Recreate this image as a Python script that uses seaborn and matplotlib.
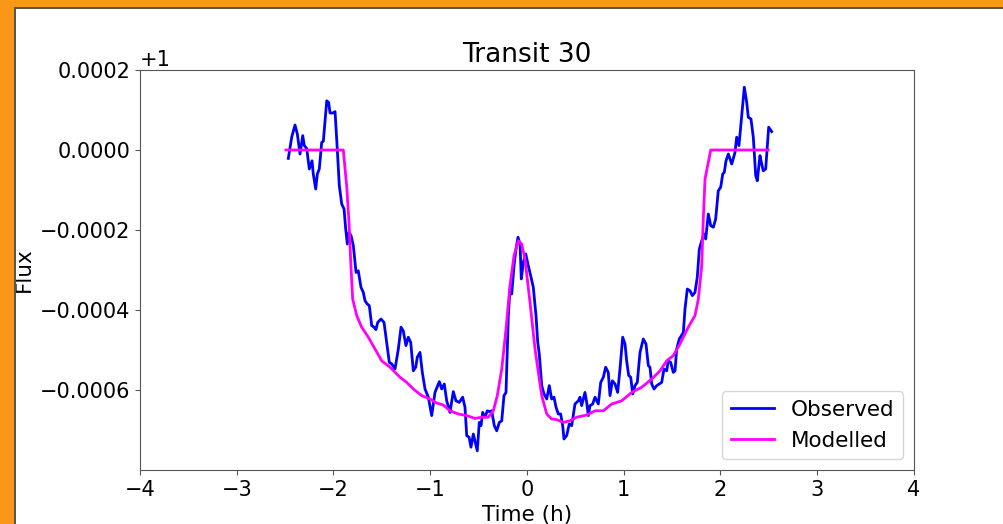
import numpy as np
import pandas as pd
import matplotlib
matplotlib.use("Agg")
import matplotlib.pyplot as plt
from matplotlib.patches import Rectangle
import seaborn as sns

# ---- data (flux offsets in units of 1e-4, relative to 1) ----
obs_time = [-2.467, -2.432, -2.398, -2.374, -2.346, -2.318, -2.302, -2.277, -2.250, -2.222,
            -2.209, -2.184, -2.167, -2.147, -2.122, -2.105, -2.070, -2.050, -2.036, -2.008,
            -1.984, -1.961, -1.940, -1.915, -1.891, -1.874, -1.857, -1.840, -1.819, -1.795,
            -1.767, -1.744, -1.716, -1.692, -1.674, -1.651, -1.630, -1.605, -1.581, -1.561,
            -1.543, -1.509, -1.478, -1.450, -1.423, -1.398, -1.364, -1.330, -1.302, -1.279,
            -1.251, -1.227, -1.202, -1.175, -1.150, -1.134, -1.106, -1.082, -1.054, -1.020,
            -0.985, -0.951, -0.906, -0.882, -0.855, -0.830, -0.796, -0.762, -0.734, -0.700,
            -0.665, -0.641, -0.623, -0.599, -0.579, -0.555, -0.534, -0.514, -0.493, -0.475,
            -0.458, -0.434, -0.410, -0.390, -0.365, -0.338, -0.313, -0.286, -0.261, -0.238,
            -0.217, -0.193, -0.176, -0.158, -0.134, -0.114, -0.093, -0.072, -0.059, -0.038,
            -0.013, 0.013, 0.038, 0.065, 0.093, 0.111, 0.127, 0.152, 0.176, 0.204,
            0.230, 0.255, 0.279, 0.300, 0.324, 0.348, 0.369, 0.382, 0.410, 0.437,
            0.462, 0.496, 0.530, 0.548, 0.565, 0.599, 0.617, 0.634, 0.651, 0.679,
            0.703, 0.737, 0.762, 0.789, 0.813, 0.840, 0.858, 0.882, 0.910, 0.937,
            0.961, 0.989, 1.013, 1.030, 1.051, 1.072, 1.093, 1.116, 1.140, 1.168,
            1.202, 1.230, 1.254, 1.271, 1.289, 1.313, 1.341, 1.367, 1.392, 1.416,
            1.444, 1.460, 1.485, 1.512, 1.530, 1.547, 1.574, 1.616, 1.633, 1.657,
            1.685, 1.709, 1.736, 1.760, 1.781, 1.806, 1.829, 1.847, 1.874, 1.899,
            1.926, 1.950, 1.977, 2.002, 2.023, 2.039, 2.057, 2.081, 2.116, 2.150,
            2.167, 2.191, 2.219, 2.246, 2.271, 2.287, 2.315, 2.339, 2.364, 2.380,
            2.408, 2.426, 2.442, 2.467, 2.484, 2.498, 2.529]
obs_flux = [-0.21, 0.32, 0.625, 0.40, -0.10, 0.36, 0.11, 0.04, -0.475, -0.27,
            -0.60, -0.975, -0.60, -0.475, 0.19, 0.22, 1.23, 1.19, 0.925, 0.925,
            0.96, 0.025, -0.89, -1.35, -1.475, -1.975, -2.35, -2.06, -2.14, -2.39,
            -3.06, -3.02, -3.43, -3.56, -3.77, -3.85, -3.89, -4.39, -4.43, -4.49,
            -4.31, -4.225, -4.31, -4.81, -5.31, -5.35, -5.475, -4.975, -4.43, -4.52,
            -4.89, -4.68, -4.81, -5.52, -5.43, -5.18, -5.06, -5.56, -5.975, -6.18,
            -6.64, -6.06, -5.79, -5.975, -5.85, -6.27, -6.56, -6.04, -6.27, -6.31,
            -6.18, -6.43, -7.14, -7.18, -7.43, -7.10, -7.31, -7.52, -6.81, -6.89,
            -6.56, -6.68, -6.52, -6.54, -6.52, -6.89, -7.02, -6.81, -6.77, -6.14,
            -6.06, -4.14, -3.475, -3.60, -2.89, -2.475, -2.18, -2.35, -3.225, -2.81,
            -2.60, -2.89, -3.14, -3.43, -4.14, -4.81, -5.10, -5.89, -6.10, -6.225,
            -5.89, -6.225, -6.18, -6.43, -6.60, -6.60, -6.89, -7.225, -7.14, -6.85,
            -6.89, -6.35, -6.27, -6.18, -6.39, -6.06, -6.31, -6.64, -6.39, -6.35,
            -6.18, -6.35, -5.81, -5.68, -5.43, -5.56, -6.14, -5.77, -5.85, -6.06,
            -5.475, -4.68, -4.85, -5.27, -5.64, -5.68, -6.10, -5.89, -5.81, -5.06,
            -4.725, -4.85, -5.39, -5.43, -5.85, -5.975, -5.89, -5.85, -5.81, -5.475,
            -5.52, -5.27, -5.31, -5.56, -5.52, -4.975, -4.725, -4.56, -3.975, -3.475,
            -3.52, -3.64, -3.56, -3.18, -2.475, -2.27, -2.10, -2.225, -1.60, -1.89,
            -1.93, -1.725, -1.02, -0.93, -0.60, -0.56, -0.27, -0.10, -0.35, -0.06,
            0.32, 0.11, 0.86, 1.57, 1.19, 0.82, 0.775, 0.32, -0.64, -0.77,
            -0.14, -0.35, -0.52, -0.475, 0.11, 0.57, 0.46]

mod_time = [-2.491, -1.899, -1.864, -1.840, -1.822, -1.802, -1.760, -1.709, -1.640, -1.571,
            -1.502, -1.416, -1.313, -1.243, -1.175, -1.088, -1.003, -0.933, -0.865, -0.796,
            -0.710, -0.623, -0.537, -0.468, -0.400, -0.348, -0.307, -0.261, -0.217, -0.176,
            -0.134, -0.090, -0.055, -0.021, 0.031, 0.083, 0.127, 0.152, 0.204, 0.255,
            0.307, 0.375, 0.444, 0.514, 0.617, 0.703, 0.789, 0.875, 0.979, 1.082,
            1.186, 1.289, 1.375, 1.444, 1.512, 1.581, 1.667, 1.736, 1.771, 1.806,
            1.822, 1.840, 1.864, 1.899, 2.494]
mod_flux = [0.0, 0.0, -0.89, -1.80, -2.80, -3.725, -4.14, -4.43, -4.68, -4.975,
            -5.27, -5.43, -5.68, -5.81, -5.975, -6.14, -6.225, -6.325, -6.375, -6.52,
            -6.60, -6.64, -6.71, -6.68, -6.68, -6.52, -6.14, -5.475, -4.475, -3.39,
            -2.64, -2.27, -2.35, -2.725, -3.81, -4.975, -5.725, -6.14, -6.60, -6.725,
            -6.74, -6.81, -6.77, -6.68, -6.625, -6.52, -6.52, -6.35, -6.27, -6.06,
            -5.93, -5.725, -5.52, -5.27, -5.14, -4.85, -4.43, -4.14, -3.725, -2.89,
            -1.725, -0.725, -0.43, 0.0, 0.0]

x_ticks = [-4, -3, -2, -1, 0, 1, 2, 3, 4]

obs = pd.DataFrame({"Time": obs_time, "Flux": 1 + np.array(obs_flux) * 1e-4})
mod = pd.DataFrame({"Time": mod_time, "Flux": 1 + np.array(mod_flux) * 1e-4})

plt.rcParams["font.size"] = 15
plt.rcParams["font.family"] = ["DejaVu Sans"]

fig = plt.figure(figsize=(10.04, 5.24), dpi=100)

# orange frame around the screenshot (drawn first, behind everything)
fig.patches.extend([
    Rectangle((0, 1 - 7 / 524), 1, 7 / 524, transform=fig.transFigure,
              facecolor="#f99719", edgecolor="none", zorder=0),
    Rectangle((0, 1 - 9 / 524), 1, 2 / 524, transform=fig.transFigure,
              facecolor="#555555", edgecolor="none", zorder=0),
    Rectangle((0, 0), 14 / 1004, 1, transform=fig.transFigure,
              facecolor="#f99719", edgecolor="none", zorder=0),
    Rectangle((14 / 1004, 0), 2 / 1004, 1 - 7 / 524, transform=fig.transFigure,
              facecolor="#555555", edgecolor="none", zorder=0),
])

ax = fig.add_axes([140 / 1004, 1 - 470 / 524, 774 / 1004, 400 / 524])

sns.lineplot(data=obs, x="Time", y="Flux", ax=ax, sort=False, estimator=None,
             color="#0000ff", linewidth=2, label="Observed")
sns.lineplot(data=mod, x="Time", y="Flux", ax=ax, sort=False, estimator=None,
             color="#ff00ff", linewidth=2, label="Modelled")

ax.set_xlim(-4, 4)
ax.set_ylim(1 - 0.0008, 1 + 0.0002)
ax.set_xticks(x_ticks)
ax.set_yticks([1 - 0.0006, 1 - 0.0004, 1 - 0.0002, 1.0, 1 + 0.0002])
ax.set_xlabel("Time (h)", fontsize=15.5)
ax.set_ylabel("Flux", fontsize=15.5)
ax.yaxis.set_label_coords((34 - 140) / 774, 0.5)
ax.set_title("Transit 30", fontsize=19)
for s in ax.spines.values():
    s.set_color("#555555")
ax.tick_params(colors="#555555", labelcolor="black", labelsize=15)
ax.yaxis.get_offset_text().set_fontsize(15)
ax.legend(loc="lower right", fontsize=15.5)

fig.savefig("out.png", dpi=100)
